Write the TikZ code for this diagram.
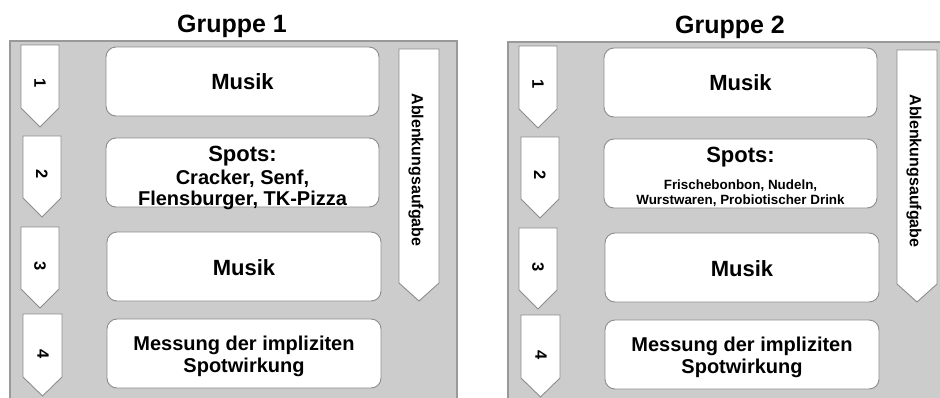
\documentclass[tikz,border=0pt]{standalone}
\usepackage{fontspec}
\setmainfont{Liberation Sans}
\definecolor{panelfill}{HTML}{CCCCCC}
\definecolor{panelline}{HTML}{999999}
\definecolor{boxline}{HTML}{8C8C8C}
\tikzset{
  panel/.style={fill=panelfill, draw=panelline, line width=1.6pt},
  stepbox/.style={draw=boxline, fill=white, line width=0.9pt, rounded corners=10pt,
    minimum width=273pt, minimum height=69pt, inner sep=0pt},
  boxtext/.style={align=center, inner sep=0pt, font=\bfseries\fontsize{22}{24}\selectfont},
  arrowshape/.style={draw=boxline, fill=white, line width=0.9pt, line join=miter},
  numtext/.style={rotate=-90, inner sep=0pt, font=\bfseries\fontsize{16.5}{18}\selectfont},
  grouptitle/.style={anchor=base, inner sep=0pt, font=\bfseries\fontsize{25}{27}\selectfont},
}
\newcommand\pentarrow[5]{%
  \draw[arrowshape] (#1,#3) -- (#2,#3) -- (#2,#4) -- ({(#1+#2)/2},#5) -- (#1,#4) -- cycle;}
\newcommand\drawgroup[4]{%
  \node[grouptitle] (#1title) at (232,32) {#2};
  \draw[panel] (10,41) rectangle (457,410);
  % step arrows
  \pentarrow{21}{59}{45}{108}{127}
  \node[numtext] (#1n1) at (40,83) {1};
  \pentarrow{23}{61}{136}{198}{217}
  \node[numtext] (#1n2) at (42,174) {2};
  \pentarrow{21}{59}{227}{289}{308}
  \node[numtext] (#1n3) at (40,266) {3};
  \pentarrow{23}{62}{314}{377}{396}
  \node[numtext] (#1n4) at (43,354) {4};
  % boxes
  \node[stepbox, boxtext] (#1m1) at (242.5,81.5) {Musik};
  \node[stepbox] (#1sp) at (242.5,172.5) {};
  \node[boxtext] (#1spt) at (242.5,#4) {#3};
  \node[stepbox, minimum width=274pt] (#1m2) at (244,266.5) {};
  \node[boxtext] (#1m2t) at (244,268) {Musik};
  \node[stepbox, minimum width=274pt] (#1me) at (244,353.5) {};
  \node[boxtext, font=\bfseries\fontsize{20}{22}\selectfont] (#1met) at (244,356.5)
    {Messung der impliziten\\Spotwirkung};
  % distraction arrow
  \pentarrow{399}{439}{49}{283}{301}
  \node[numtext, font=\bfseries\fontsize{16}{18}\selectfont] (#1abl) at (416,170) {Ablenkungsaufgabe};
}
\begin{document}
\begin{tikzpicture}[x=1pt,y=-1pt]
  \useasboundingbox (0,0) rectangle (940,397);
  \begin{scope}
    \drawgroup{a}{Gruppe 1}{Spots:\\[-1pt]{\fontsize{20}{21}\selectfont Cracker, Senf,}\\[-3pt]{\fontsize{20}{21}\selectfont Flensburger, TK-Pizza}}{177.5}
  \end{scope}
  \begin{scope}[shift={(498,1)}]
    \drawgroup{b}{Gruppe 2}{Spots:\\[3pt]{\fontsize{13.4}{15}\selectfont Frischebonbon, Nudeln,}\\[-9pt]{\fontsize{13.4}{15}\selectfont Wurstwaren, Probiotischer Drink}}{176}
  \end{scope}
\end{tikzpicture}
\end{document}
